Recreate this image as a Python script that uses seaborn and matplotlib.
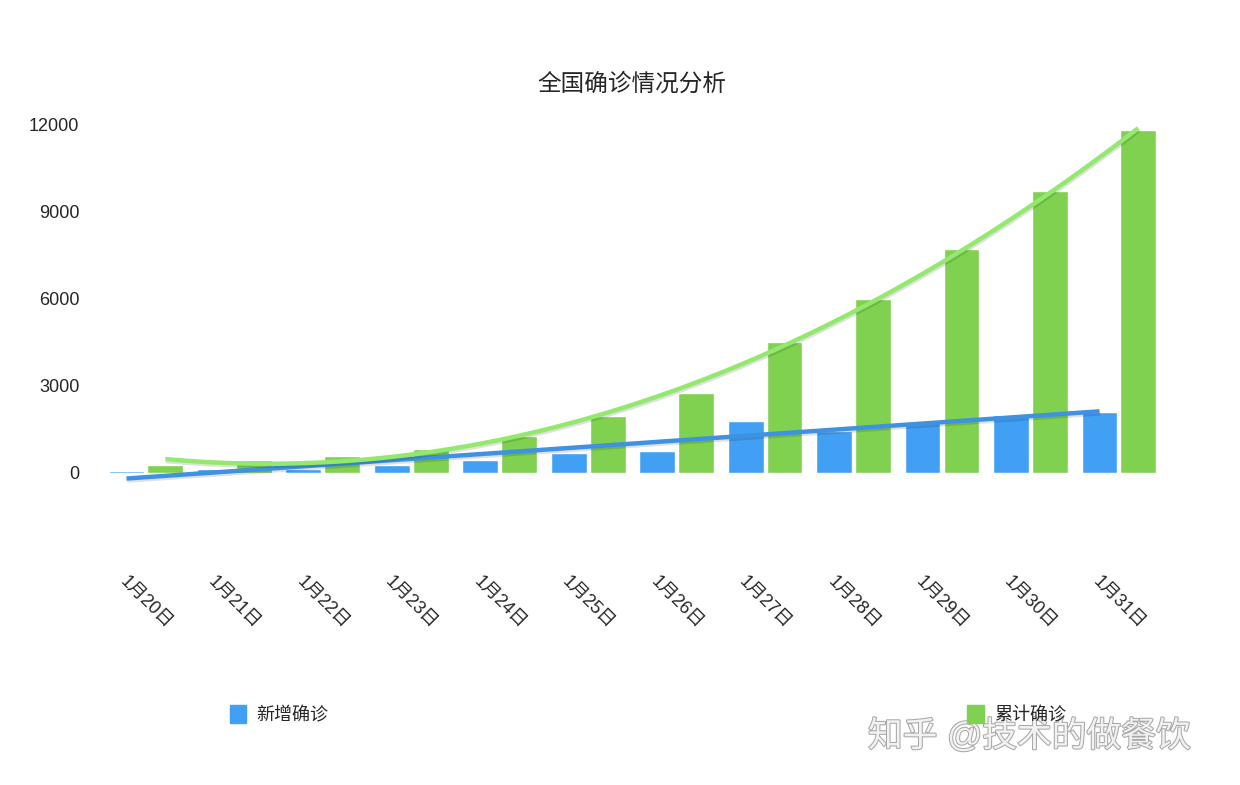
import pandas as pd
import numpy as np
import matplotlib.pyplot as plt
import matplotlib.patheffects as pe
from matplotlib.patches import Patch
import seaborn as sns

# data
dates = ['1月20日', '1月21日', '1月22日', '1月23日', '1月24日', '1月25日',
         '1月26日', '1月27日', '1月28日', '1月29日', '1月30日', '1月31日']
new_cases = [77, 149, 131, 259, 444, 688, 769, 1771, 1459, 1737, 1982, 2102]
total_cases = [291, 440, 571, 830, 1287, 1975, 2744, 4515, 5974, 7711, 9692, 11791]
series_names = ['新增确诊', '累计确诊']
yticks = [0, 3000, 6000, 9000, 12000]

blue = '#42A0F4'
green = '#7FD14F'
blue_line = '#3F92E2'
green_line = '#93E86E'

df = pd.DataFrame({
    'date': dates * 2,
    'value': new_cases + total_cases,
    'series': [series_names[0]] * len(dates) + [series_names[1]] * len(dates),
})

sns.set_style('white')
plt.rcParams['font.family'] = ['Liberation Sans', 'Noto Sans CJK SC', 'DejaVu Sans']

fig = plt.figure(figsize=(12.4, 7.85), dpi=100)
ax = fig.add_axes([0.082, 0.3975, 0.856, 0.4445])

sns.barplot(data=df, x='date', y='value', hue='series', order=dates,
            hue_order=series_names, palette=[blue, green], saturation=1,
            width=0.88, gap=0.08, ax=ax, legend=False)

# trend lines: linear for daily new, quadratic for cumulative
shadow = [pe.SimpleLineShadow(offset=(0.5, -1.5), alpha=0.12), pe.Normal()]
xpos = np.arange(len(dates))
sns.regplot(x=xpos - 0.22, y=np.array(new_cases), order=1, ci=None, scatter=False,
            ax=ax, line_kws=dict(color=blue_line, lw=3.2, path_effects=shadow,
                                 clip_on=False, solid_capstyle='butt'))
sns.regplot(x=xpos + 0.22, y=np.array(total_cases), order=2, ci=None, scatter=False,
            ax=ax, line_kws=dict(color=green_line, lw=3.2, path_effects=shadow,
                                 clip_on=False, solid_capstyle='butt'))

ax.set_xlim(-0.5, 11.5)
ax.set_ylim(0, 12000)
ax.set_yticks(yticks)
ax.set_yticklabels([str(t) for t in yticks], fontsize=13)
ax.set_xticks(xpos)
ax.set_xticklabels(dates, rotation=-45, ha='center', fontsize=13)
ax.tick_params(axis='x', length=0, pad=72)
ax.tick_params(axis='y', length=0, pad=16)
ax.set_xlabel('')
ax.set_ylabel('')
sns.despine(ax=ax, left=True, bottom=True)

fig.suptitle('全国确诊情况分析', x=0.51, y=0.907, fontsize=17)

# legend split to both sides like the original
fig.legend(handles=[Patch(color=blue, label=series_names[0])], loc='center left',
           bbox_to_anchor=(0.172, 0.09), frameon=False, fontsize=13,
           handlelength=0.9, handleheight=1.2, handletextpad=0.6)
fig.legend(handles=[Patch(color=green, label=series_names[1])], loc='center left',
           bbox_to_anchor=(0.767, 0.09), frameon=False, fontsize=13,
           handlelength=0.9, handleheight=1.2, handletextpad=0.6)

fig.text(0.70, 0.062, '知乎 @技术的做餐饮', fontsize=25, color='#f2f2f2',
         path_effects=[pe.withStroke(linewidth=1.5, foreground='#a8a8a8')],
         va='center', ha='left')

fig.savefig('out.png', dpi=100)
